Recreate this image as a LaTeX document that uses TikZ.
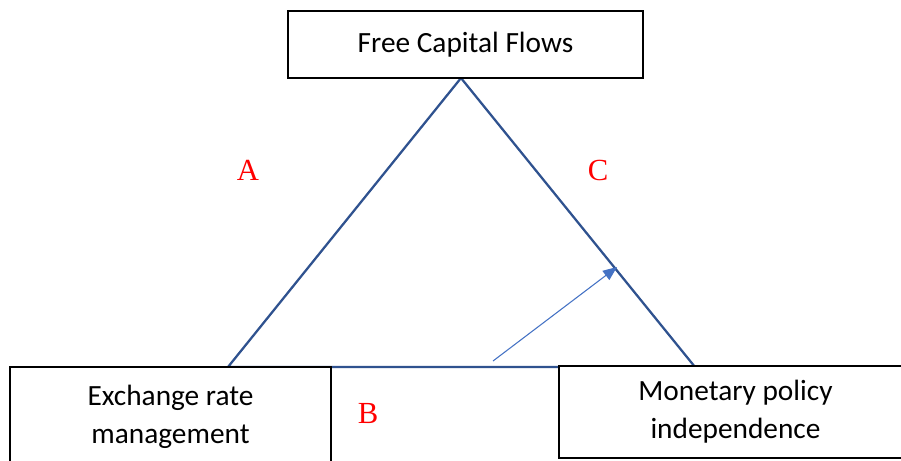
\documentclass[tikz,border=0pt]{standalone}
\usepackage{fontspec}
\setmainfont{Carlito}
\newfontfamily\serifletter{Liberation Serif}
\usetikzlibrary{arrows.meta}
\definecolor{triblue}{HTML}{2F528F}
\definecolor{arrblue}{HTML}{4472C4}
\definecolor{lblred}{HTML}{FF0000}
\tikzset{
  side/.style={draw=triblue, line width=1.7pt},
  box/.style={draw=black, line width=1.1pt, fill=white, inner sep=0pt, align=center,
    font=\fontsize{22}{28.5}\selectfont},
  letter/.style={text=lblred, inner sep=0pt, font=\serifletter\fontsize{23}{23}\selectfont},
  pointer/.style={draw=arrblue, line width=0.8pt, -{Triangle[length=10.5pt,width=8.5pt]}}
}
\begin{document}
\begin{tikzpicture}[x=0.75pt,y=-0.75pt]
\useasboundingbox (0,0) rectangle (901,461);
\coordinate (apex) at (461,78);
\coordinate (lv) at (228,367);
\coordinate (rv) at (695,367);
\draw[side] (apex) -- (lv) -- (rv) -- cycle;
\node[box, minimum width=266.25pt, minimum height=50.25pt] (top) at (465.5,44.5) {Free Capital Flows};
\node[box, minimum width=240.75pt, minimum height=75pt] (left) at (170.5,417) {Exchange rate\\management};
\node[box, minimum width=264.75pt, minimum height=69pt] (right) at (735.5,412) {\raisebox{-3pt}{\parbox{250pt}{\centering Monetary policy\\independence}}};
\node[letter] (A) at (248,170) {A};
\node[letter] (C) at (598,170) {C};
\node[letter] (B) at (368,413) {B};
\coordinate (as) at (493,361);
\coordinate (ae) at (617,267);
\draw[pointer] (as) -- (ae);
\end{tikzpicture}
\end{document}
